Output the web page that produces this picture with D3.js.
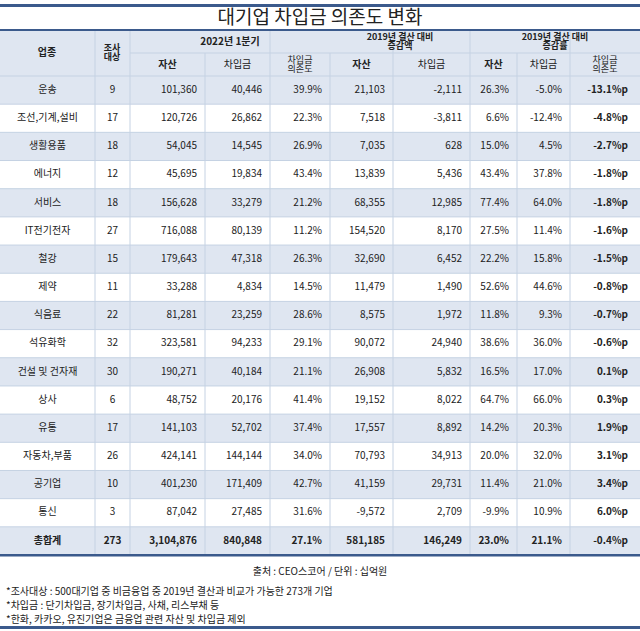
<!DOCTYPE html><html><head><meta charset="utf-8"><script src="https://cdn.jsdelivr.net/npm/d3@7"></script>
<style>body{margin:0;background:#fff}text{font-family:"Noto Sans CJK KR",sans-serif}</style></head><body><svg id="c" width="640" height="631"></svg>
<script>
const industries=["운송","조선,기계,설비","생활용품","에너지","서비스","IT전기전자","철강","제약","식음료","석유화학","건설 및 건자재","상사","유통","자동차,부품","공기업","통신","총합계"];
const counts=["9","17","18","12","18","27","15","11","22","32","30","6","17","26","10","3","273"];
const assets22=["101,360","120,726","54,045","45,695","156,628","716,088","179,643","33,288","81,281","323,581","190,271","48,752","141,103","424,141","401,230","87,042","3,104,876"];
const debt22=["40,446","26,862","14,545","19,834","33,279","80,139","47,318","4,834","23,259","94,233","40,184","20,176","52,702","144,144","171,409","27,485","840,848"];
const dep22=["39.9%","22.3%","26.9%","43.4%","21.2%","11.2%","26.3%","14.5%","28.6%","29.1%","21.1%","41.4%","37.4%","34.0%","42.7%","31.6%","27.1%"];
const assetAmt=["21,103","7,518","7,035","13,839","68,355","154,520","32,690","11,479","8,575","90,072","26,908","19,152","17,557","70,793","41,159","-9,572","581,185"];
const debtAmt=["-2,111","-3,811","628","5,436","12,985","8,170","6,452","1,490","1,972","24,940","5,832","8,022","8,892","34,913","29,731","2,709","146,249"];
const assetRate=["26.3%","6.6%","15.0%","43.4%","77.4%","27.5%","22.2%","52.6%","11.8%","38.6%","16.5%","64.7%","14.2%","20.0%","11.4%","-9.9%","23.0%"];
const debtRate=["-5.0%","-12.4%","4.5%","37.8%","64.0%","11.4%","15.8%","44.6%","9.3%","36.0%","17.0%","66.0%","20.3%","32.0%","21.0%","10.9%","21.1%"];
const depChg=["-13.1%p","-4.8%p","-2.7%p","-1.8%p","-1.8%p","-1.6%p","-1.5%p","-0.8%p","-0.7%p","-0.6%p","0.1%p","0.3%p","1.9%p","3.1%p","3.4%p","6.0%p","-0.4%p"];
const notes=["*조사대상 : 500대기업 중 비금융업 중 2019년 결산과 비교가 가능한 273개 기업","*차입금 : 단기차입금, 장기차입금, 사채, 리스부채 등","*한화, 카카오, 유진기업은 금융업 관련 자산 및 차입금 제외"];
const cols=[industries,counts,assets22,debt22,dep22,assetAmt,debtAmt,assetRate,debtRate,depChg];
const edges=[0,95,130,205,270,330,393,470,517,570,640];
const svg=d3.select("#c");
const dark="#3b5a8c",line="#c5d2e3",blue="#dfe6f1";
const y=d3.scaleBand().domain(d3.range(industries.length)).range([76,555]);
svg.append("rect").attr("x",0).attr("y",4).attr("width",640).attr("height",3).attr("fill",dark);
svg.append("text").attr("x",320).attr("y",24).attr("text-anchor","middle").attr("font-size",19).attr("fill","#222").text("대기업 차입금 의존도 변화");
svg.append("rect").attr("x",0).attr("y",29).attr("width",640).attr("height",2.5).attr("fill",dark);
svg.append("rect").attr("x",0).attr("y",31).attr("width",640).attr("height",45).attr("fill",blue);
industries.forEach((d,i)=>{if(i%2==0)svg.append("rect").attr("x",0).attr("y",y(i)).attr("width",640).attr("height",y.bandwidth()).attr("fill",blue);
 svg.append("line").attr("x1",0).attr("x2",640).attr("y1",y(i)).attr("y2",y(i)).attr("stroke",line);});
edges.slice(1,-1).forEach((e,k)=>{const top=[3,5,8].includes(k+1)?53:31;svg.append("line").attr("x1",e).attr("x2",e).attr("y1",top).attr("y2",555).attr("stroke",line);});
svg.append("line").attr("x1",130).attr("x2",640).attr("y1",53).attr("y2",53).attr("stroke",line);
const hdr=(x,yy,t,s=10,w="bold")=>{const lines=t.split("\n");const sz=lines.length>1?9:s;lines.forEach((l,j)=>svg.append("text").attr("x",x).attr("y",yy+(j-(lines.length-1)/2)*9.5).attr("text-anchor","middle").attr("dominant-baseline","middle").attr("font-size",sz).attr("font-weight",w).attr("fill","#222").text(l));};
hdr(47,53,"업종");hdr(112,53,"조사\n대상");
hdr(230,42,"2022년 1분기");hdr(400,42,"2019년 결산 대비\n증감액");hdr(555,42,"2019년 결산 대비\n증감률");
const sub=["자산","차입금","차입금\n의존도","자산","차입금","자산","차입금","차입금\n의존도"];
sub.forEach((s,k)=>hdr((edges[k+2]+edges[k+3])/2,65,s,10,k==0||k==3||k==5?"bold":"normal"));
cols.forEach((col,c)=>col.forEach((v,i)=>{
 const center=c<2; const x=center?(edges[c]+edges[c+1])/2:edges[c+1]-(c==9?12:8);
 const bold=c==9||i==industries.length-1;
 svg.append("text").attr("x",x).attr("y",y(i)+y.bandwidth()/2).attr("dominant-baseline","middle").attr("text-anchor",center?"middle":"end").attr("font-size",10).attr("font-weight",bold?"bold":"normal").attr("fill","#222").text(v);}));
svg.append("rect").attr("x",0).attr("y",554).attr("width",640).attr("height",2.5).attr("fill",dark);
svg.append("text").attr("x",320).attr("y",572).attr("text-anchor","middle").attr("dominant-baseline","middle").attr("font-size",10).attr("fill","#222").text("출처 : CEO스코어 / 단위 : 십억원");
notes.forEach((n,i)=>svg.append("text").attr("x",6).attr("y",592+i*14).attr("dominant-baseline","middle").attr("font-size",10).attr("fill","#222").text(n));
svg.append("rect").attr("x",0).attr("y",626).attr("width",640).attr("height",3).attr("fill",dark);
</script></body></html>
